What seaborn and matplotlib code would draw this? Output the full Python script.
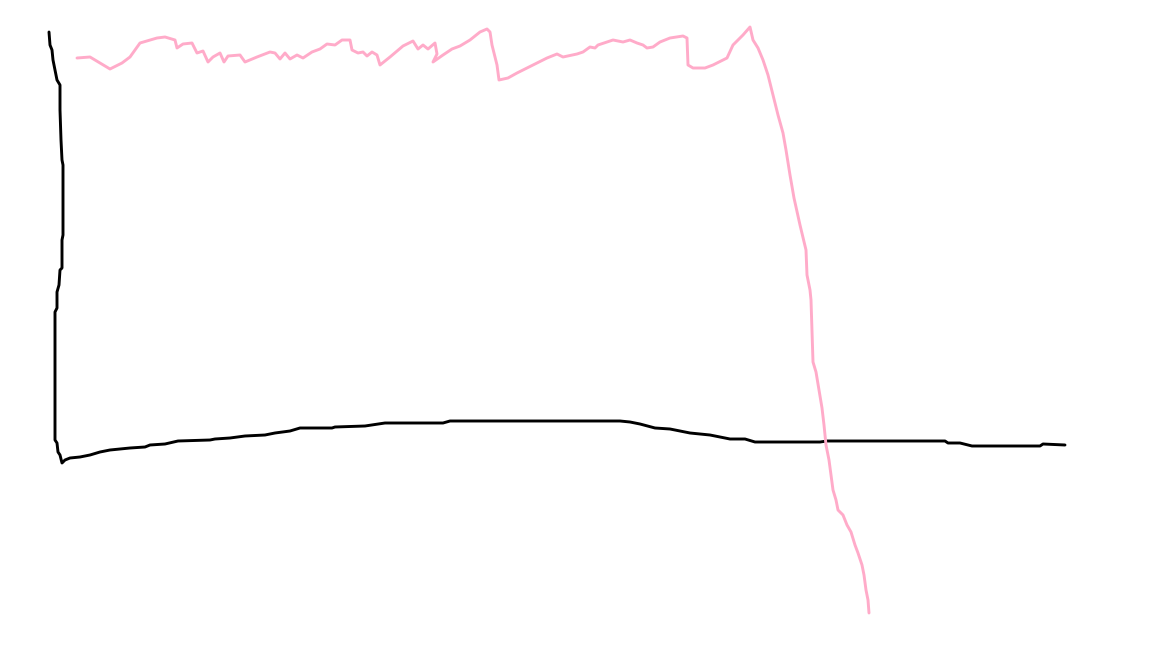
import matplotlib
matplotlib.use("Agg")
import matplotlib.pyplot as plt
import seaborn as sns
import pandas as pd

# black path (x, y, y grows downward)
black_x = [49, 50, 52, 53, 55, 57, 60, 60, 61, 62, 63, 63, 62, 62, 60, 59, 57, 57, 55,
           55, 57, 58, 60, 62, 65, 70, 80, 90, 100, 110, 120, 130, 145, 150, 165, 178,
           210, 215, 230, 245, 265, 275, 290, 300, 332, 335, 365, 385, 443, 450, 620,
           630, 640, 655, 670, 680, 690, 710, 720, 730, 745, 755, 820, 827, 945, 948,
           960, 972, 1040, 1043, 1065]
black_y = [32, 45, 50, 60, 70, 80, 85, 110, 140, 160, 165, 235, 240, 268, 270, 285, 292,
           308, 312, 440, 443, 452, 455, 463, 460, 458, 457, 455, 452, 450, 449, 448, 447,
           445, 444, 441, 440, 439, 438, 436, 435, 433, 431, 428, 428, 427, 426, 423, 423,
           421, 421, 422, 424, 428, 429, 431, 433, 435, 437, 439, 439, 442, 442, 441, 441,
           443, 443, 446, 446, 444, 445]

# pink path
pink_x = [77, 90, 100, 110, 122, 130, 140, 157, 165, 175, 177, 183, 192, 197, 203, 208,
          213, 220, 224, 228, 240, 245, 257, 270, 275, 280, 285, 290, 297, 303, 312, 320,
          327, 335, 342, 350, 352, 358, 363, 367, 372, 377, 380, 390, 403, 413, 418, 423,
          428, 435, 437, 433, 443, 452, 460, 470, 480, 487, 490, 492, 497, 499, 508, 517,
          527, 547, 557, 563, 577, 583, 590, 595, 598, 607, 613, 623, 630, 637, 643, 647,
          653, 660, 670, 683, 687, 688, 693, 705, 713, 727, 733, 743, 750, 753, 758, 763,
          768, 773, 778, 783, 786, 790, 794, 800, 806, 807, 810, 811, 812, 813, 816, 819,
          822, 824, 826, 829, 831, 833, 836, 838, 843, 847, 851, 855, 858, 862, 864, 866,
          868, 869]
pink_y = [58, 57, 63, 69, 63, 57, 43, 38, 37, 40, 48, 44, 43, 53, 51, 62, 57, 53, 62, 56,
          55, 62, 57, 52, 53, 59, 53, 59, 55, 58, 52, 49, 44, 45, 40, 40, 50, 53, 52, 56,
          52, 55, 65, 57, 46, 41, 49, 45, 49, 43, 54, 62, 55, 49, 46, 40, 32, 29, 32, 45,
          65, 80, 78, 73, 68, 58, 54, 57, 54, 52, 47, 48, 45, 42, 40, 42, 40, 43, 45, 48,
          47, 42, 38, 36, 38, 65, 68, 68, 65, 58, 45, 35, 27, 40, 48, 60, 75, 95, 115, 133,
          150, 175, 198, 225, 250, 275, 290, 300, 330, 362, 372, 390, 408, 425, 445, 460,
          475, 490, 500, 510, 515, 525, 532, 545, 553, 565, 575, 590, 600, 613]

black = pd.DataFrame({"x": black_x, "y": black_y})
pink = pd.DataFrame({"x": pink_x, "y": pink_y})

sns.set_style("white")
fig = plt.figure(figsize=(11.52, 6.48), dpi=100)
ax = fig.add_axes([0, 0, 1, 1])

sns.lineplot(data=black, x="x", y="y", sort=False, estimator=None,
             color="black", linewidth=2.1, ax=ax)
sns.lineplot(data=pink, x="x", y="y", sort=False, estimator=None,
             color="#ffabc9", linewidth=2.1, ax=ax)

ax.set_xlim(0, 1152)
ax.set_ylim(648, 0)
ax.axis("off")

fig.savefig("out.png", dpi=100)
plt.close(fig)
